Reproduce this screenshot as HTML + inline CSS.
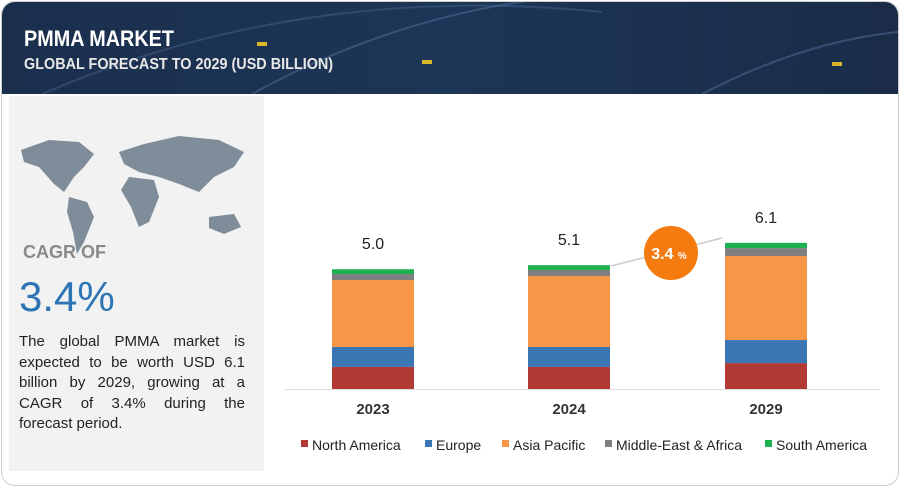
<!DOCTYPE html>
<html><head><meta charset="utf-8">
<style>
body{margin:0;width:900px;height:487px;background:#fff;font-family:"Liberation Sans",sans-serif;overflow:hidden;position:relative}
#frame{position:absolute;left:1px;top:1px;width:896px;height:483px;border:1px solid #ccc;border-radius:14px;overflow:hidden}
#hdr{position:absolute;left:0;top:0;width:896px;height:92px;background:linear-gradient(90deg,#1b2f4d,#1d3556 50%,#1a2c48)}
#left{position:absolute;left:7px;top:94px;width:255px;height:375px;background:#f2f2f2}
.t{position:absolute;white-space:nowrap}
</style></head><body>
<div id="frame">
<div id="hdr">
<svg width="896" height="92" style="position:absolute;left:0;top:0">
<path d="M40 92 Q300 -20 600 10" stroke="#3d5a80" stroke-width="2" fill="none" opacity=".6"/>
<path d="M250 92 Q400 10 560 -5" stroke="#4a6890" stroke-width="2" fill="none" opacity=".6"/>
<path d="M700 92 Q800 40 896 30" stroke="#4a6890" stroke-width="2" fill="none" opacity=".6"/>
<rect x="255" y="40" width="10" height="4" fill="#d8b62a"/><rect x="420" y="58" width="10" height="4" fill="#d8b62a"/><rect x="830" y="60" width="10" height="4" fill="#d8b62a"/>
</svg>
<div class="t" style="left:22px;top:24px;color:#fff;font-weight:bold;font-size:22px;transform:scaleX(.9);transform-origin:left">PMMA MARKET</div>
<div class="t" style="left:22px;top:54px;color:#e8e8e8;font-weight:bold;font-size:16px;transform:scaleX(.9);transform-origin:left">GLOBAL FORECAST TO 2029 (USD BILLION)</div>
</div>
<div id="left">
<svg width="255" height="150" style="position:absolute;left:0;top:26px">
<g fill="#7f8c99">
<path d="M12 28 L40 18 L70 20 L85 32 L75 45 L65 55 L55 70 L45 62 L30 45 L15 40Z"/>
<path d="M60 75 L78 80 L85 95 L75 120 L68 132 L64 110 L58 90Z"/>
<path d="M110 30 L135 22 L170 14 L210 18 L235 30 L225 45 L205 55 L190 70 L170 62 L150 55 L130 50 L115 42Z"/>
<path d="M120 55 L145 58 L150 75 L140 100 L130 105 L122 85 L112 68Z"/>
<path d="M200 95 L225 92 L232 105 L215 112 L200 106Z"/>
</g></svg>
<div class="t" style="left:14px;top:146px;color:#8a8a8a;font-weight:bold;font-size:18px">CAGR OF</div>
<div class="t" style="left:10px;top:177px;color:#2e75b6;font-size:42px">3.4%</div>
<div style="position:absolute;left:10px;top:236px;width:226px;font-size:15px;line-height:20.5px;color:#222;text-align:justify">The global PMMA market is expected to be worth USD 6.1 billion by 2029, growing at a CAGR of 3.4% during the forecast period.</div>
</div>
</div>
<svg id="chart" width="900" height="487" style="position:absolute;left:0;top:0"></svg>
<script>
const years=["2023","2024","2029"];
const totals=["5.0","5.1","6.1"];
const northAmerica=[0.92,0.92,1.08];
const europe=[0.83,0.83,0.96];
const asiaPacific=[2.79,2.96,3.5];
const middleEastAfrica=[0.25,0.25,0.33];
const southAmerica=[0.2,0.2,0.22];
const seriesNames=["North America","Europe","Asia Pacific","Middle-East & Africa","South America"];
const colors=["#b33a34","#3a76b3","#f79646","#7f7f7f","#1db150"];
const series=[northAmerica,europe,asiaPacific,middleEastAfrica,southAmerica];
const NS="http://www.w3.org/2000/svg";
const svg=document.getElementById('chart');
const base=389, scale=24;
const y=v=>base-v*scale;
const xc=i=>[373,569,766][i];
const bw=82;
function mk(t,a){const e=document.createElementNS(NS,t);for(const k in a)e.setAttribute(k,a[k]);svg.appendChild(e);return e;}
let ax=mk('line',{x1:285,x2:880,y1:389.5,y2:389.5,stroke:'#ddd','stroke-width':1});


years.forEach((yr,i)=>{
 let cum=0;
 series.forEach((s,j)=>{
  const r=mk('rect',{x:xc(i)-bw/2,y:y(cum+s[i]),width:bw,height:s[i]*scale,fill:colors[j]});
  
  
  cum+=s[i];
 });
 const t=mk('text',{x:xc(i),y:y(cum)-20,'text-anchor':'middle','font-size':16,fill:'#222'});
 t.textContent=totals[i];
 
 
 const l=mk('text',{x:xc(i),y:414,'text-anchor':'middle','font-size':15,'font-weight':'bold',fill:'#333'});
 l.textContent=yr;
 
 
});
let ar=mk('line',{x1:611,y1:266,x2:722,y2:238,stroke:'#ccc','stroke-width':1.5});


let c=mk('circle',{cx:671,cy:253,r:27,fill:'#f47b0f'});


let ct=mk('text',{x:669,y:259,'text-anchor':'middle','font-size':16,'font-weight':'bold',fill:'#fff'});
ct.innerHTML='3.4 <tspan font-size="10">%</tspan>';


const lx=[301,425,502,605,765];
seriesNames.forEach((n,j)=>{
 const r=mk('rect',{x:lx[j],y:440,width:7,height:7,fill:colors[j]});
 
 
 const t=mk('text',{x:lx[j]+11,y:450,'font-size':14,fill:'#222'});
 t.textContent=n;
 
 
});
</script>
</body></html>
